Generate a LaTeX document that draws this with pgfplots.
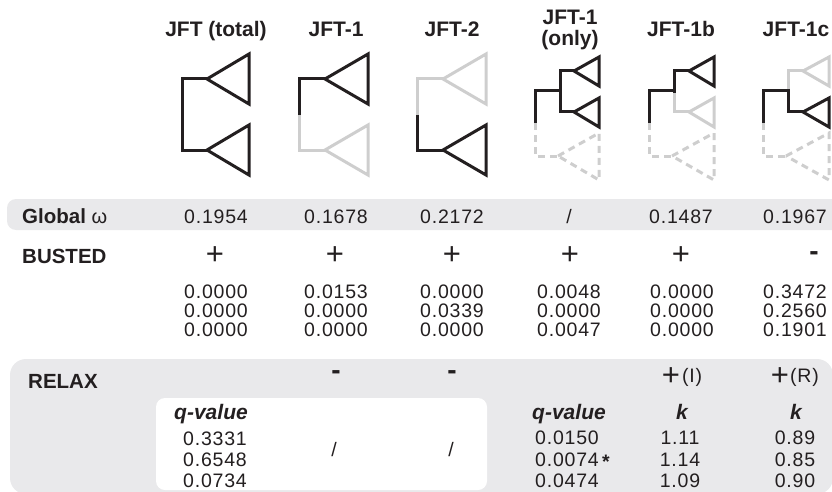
\documentclass[border=0pt]{standalone}
\usepackage{fontspec}
\setmainfont{Liberation Sans}
\newfontfamily\numfont[LetterSpace=4]{Liberation Sans}
\usepackage{pgfplots}
\pgfplotsset{compat=1.18}

\definecolor{ink}{RGB}{35,31,32}
\definecolor{pale}{RGB}{206,206,206}
\definecolor{band}{RGB}{233,233,235}

\begin{document}
\begin{tikzpicture}[
  every node/.style={inner sep=0pt, text=ink},
  hdr/.style={font=\fontsize{21bp}{21bp}\selectfont\bfseries, align=center},
  lab/.style={font=\fontsize{20.5bp}{20bp}\selectfont\bfseries, anchor=base west},
  num/.style={font=\numfont\fontsize{19.5bp}{20bp}\selectfont, anchor=base},
  bi/.style={font=\fontsize{21bp}{20bp}\selectfont\bfseries\itshape, anchor=base},
  plus/.style={font=\fontsize{31bp}{30bp}\selectfont},
  minus/.style={font=\fontsize{28bp}{27bp}\selectfont\bfseries},
]
\begin{axis}[
  width=832bp, height=492bp, scale only axis, hide axis,
  xmin=0, xmax=832, ymin=0, ymax=492, y dir=reverse,
  clip=true,
  every axis plot/.append style={line width=3bp, line join=miter, no marks},
]
\coordinate (bl) at (axis cs:0,492);
\coordinate (tr) at (axis cs:832,0);

% panels
\fill[band, rounded corners=9bp] (axis cs:7,199) rectangle (axis cs:860,230);
\fill[band, rounded corners=16bp] (axis cs:10,359) rectangle (axis cs:833,494);
\fill[white, rounded corners=9bp] (axis cs:156,398) rectangle (axis cs:487,490);

% JFT (total)
\addplot[ink] coordinates {(207,79) (182,79) (182,150) (207,150)};
\addplot[ink] coordinates {(207,79) (249,54) (249,104) (207,79) (249,54)};
\addplot[ink] coordinates {(207,150) (249,125) (249,175) (207,150) (249,125)};

% JFT-1
\addplot[pale] coordinates {(299,115) (299,150) (325,150)};
\addplot[pale] coordinates {(325,150) (368,125) (368,175) (325,150) (368,125)};
\addplot[ink] coordinates {(325,79) (299,79) (299,115)};
\addplot[ink] coordinates {(325,79) (368,54) (368,104) (325,79) (368,54)};

% JFT-2
\addplot[pale] coordinates {(443,79) (417,79) (417,115)};
\addplot[pale] coordinates {(443,79) (486,54) (486,104) (443,79) (486,54)};
\addplot[ink] coordinates {(417,115) (417,150) (443,150)};
\addplot[ink] coordinates {(443,150) (486,125) (486,175) (443,150) (486,125)};

% JFT-1 (only)
\addplot[pale, dash pattern=on 7bp off 5bp] coordinates {(535,123) (535,156) (558,156)};
\addplot[pale, dash pattern=on 7bp off 5bp] coordinates {(558,156) (599,133) (599,180) (558,156)};
\addplot[ink] coordinates {(560,91) (535,91) (535,123)};
\addplot[ink] coordinates {(574,71) (560,71) (560,112) (574,112)};
\addplot[ink] coordinates {(574,71) (599,57) (599,86) (574,71) (599,57)};
\addplot[ink] coordinates {(574,112) (599,98) (599,127) (574,112) (599,98)};

% JFT-1b
\addplot[pale, dash pattern=on 7bp off 5bp] coordinates {(649,123) (649,156) (672,156)};
\addplot[pale, dash pattern=on 7bp off 5bp] coordinates {(672,156) (714,133) (714,180) (672,156)};
\addplot[pale] coordinates {(674,91) (674,112) (689,112)};
\addplot[pale] coordinates {(689,112) (714,98) (714,127) (689,112) (714,98)};
\addplot[ink] coordinates {(674,91) (649,91) (649,123)};
\addplot[ink] coordinates {(689,71) (674,71) (674,93)};
\addplot[ink] coordinates {(689,71) (714,57) (714,86) (689,71) (714,57)};

% JFT-1c
\addplot[pale, dash pattern=on 7bp off 5bp] coordinates {(763,123) (763,156) (786,156)};
\addplot[pale, dash pattern=on 7bp off 5bp] coordinates {(786,156) (829,133) (829,180) (786,156)};
\addplot[pale] coordinates {(803,71) (788,71) (788,91)};
\addplot[pale] coordinates {(803,71) (829,57) (829,86) (803,71) (829,57)};
\addplot[ink] coordinates {(788,91) (763,91) (763,123)};
\addplot[ink] coordinates {(788,89) (788,112) (803,112)};
\addplot[ink] coordinates {(803,112) (829,98) (829,127) (803,112) (829,98)};

% headers
\node[hdr, anchor=base] at (axis cs:216,37) {JFT (total)};
\node[hdr, anchor=base] at (axis cs:336,37) {JFT-1};
\node[hdr, anchor=base] at (axis cs:452,37) {JFT-2};
\node[hdr, anchor=base] at (axis cs:570,25) {JFT-1};
\node[hdr, anchor=base] at (axis cs:570,46) {(only)};
\node[hdr, anchor=base] at (axis cs:681,37) {JFT-1b};
\node[hdr, anchor=base] at (axis cs:796,37) {JFT-1c};

% Global omega
\node[lab] at (axis cs:22,223) {Global\ {\mdseries\fontsize{20bp}{20bp}\selectfont ω}};
\node[num] at (axis cs:216,223) {0.1954};
\node[num] at (axis cs:336,223) {0.1678};
\node[num] at (axis cs:452,223) {0.2172};
\node[num] at (axis cs:569,223) {/};
\node[num] at (axis cs:681,223) {0.1487};
\node[num] at (axis cs:795,223) {0.1967};

% BUSTED
\node[lab] at (axis cs:22,263) {BUSTED};
\node[plus] at (axis cs:215,256) {+};
\node[plus] at (axis cs:335,256) {+};
\node[plus] at (axis cs:452,256) {+};
\node[plus] at (axis cs:570,256) {+};
\node[plus] at (axis cs:681,256) {+};
\node[minus] at (axis cs:814,256) {-};

\node[num] at (axis cs:216,298) {0.0000};
\node[num] at (axis cs:216,317) {0.0000};
\node[num] at (axis cs:216,336) {0.0000};
\node[num] at (axis cs:336,298) {0.0153};
\node[num] at (axis cs:336,317) {0.0000};
\node[num] at (axis cs:336,336) {0.0000};
\node[num] at (axis cs:452,298) {0.0000};
\node[num] at (axis cs:452,317) {0.0339};
\node[num] at (axis cs:452,336) {0.0000};
\node[num] at (axis cs:569,298) {0.0048};
\node[num] at (axis cs:569,317) {0.0000};
\node[num] at (axis cs:569,336) {0.0047};
\node[num] at (axis cs:682,298) {0.0000};
\node[num] at (axis cs:682,317) {0.0000};
\node[num] at (axis cs:682,336) {0.0000};
\node[num] at (axis cs:795,298) {0.3472};
\node[num] at (axis cs:795,317) {0.2560};
\node[num] at (axis cs:795,336) {0.1901};

% RELAX
\node[lab] at (axis cs:28,388) {RELAX};
\node[minus] at (axis cs:336,375) {-};
\node[minus] at (axis cs:452,375) {-};
\node[plus] at (axis cs:671,377) {+};
\node[num, anchor=base west] at (axis cs:682,382) {(I)};
\node[plus] at (axis cs:780,377) {+};
\node[num, anchor=base west] at (axis cs:790,382) {(R)};

\node[bi] at (axis cs:211,419) {q-value};
\node[num] at (axis cs:215,445) {0.3331};
\node[num] at (axis cs:215,466) {0.6548};
\node[num] at (axis cs:215,487) {0.0734};
\node[num] at (axis cs:334,456) {/};
\node[num] at (axis cs:451,456) {/};

\node[bi] at (axis cs:569,419) {q-value};
\node[num, anchor=base west] at (axis cs:535,444) {0.0150};
\node[num, anchor=base west] at (axis cs:535,466) {0.0074\,\raisebox{-2bp}{\bfseries *}};
\node[num, anchor=base west] at (axis cs:535,487) {0.0474};
\node[bi] at (axis cs:682,419) {k};
\node[num] at (axis cs:680,444) {1.11};
\node[num] at (axis cs:680,466) {1.14};
\node[num] at (axis cs:680,487) {1.09};
\node[bi] at (axis cs:796,419) {k};
\node[num] at (axis cs:795,444) {0.89};
\node[num] at (axis cs:795,466) {0.85};
\node[num] at (axis cs:795,487) {0.90};
\end{axis}
\pgfresetboundingbox
\path[use as bounding box] (bl) rectangle (tr);
\end{tikzpicture}
\end{document}
